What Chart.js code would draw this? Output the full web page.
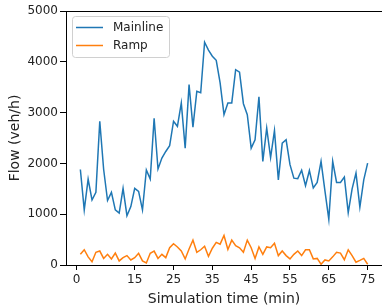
<!DOCTYPE html>
<html>
<head>
<meta charset="utf-8">
<script src="https://cdn.jsdelivr.net/npm/chart.js@4/dist/chart.umd.min.js"></script>
<style>
    html, body { margin: 0; padding: 0; background: #fff; }
    #wrap { width: 382px; height: 308px; }
</style>
</head>
<body>
<div id="wrap"><canvas id="myChart"></canvas></div>
<script>
const minutes = [];
for (let t = 1; t <= 75; t++) minutes.push(t);

const mainlineFlow = [
    1880, 1085, 1690, 1280, 1430, 2830, 1880, 1270, 1430, 1085,
    1020, 1510, 970, 1150, 1510, 1450, 1085, 1870, 1690, 2890,
    1890, 2105, 2235, 2350, 2830, 2730, 3190, 2300, 3550, 2715,
    3420, 3390, 4385, 4230, 4110, 4030, 3585, 2960, 3190, 3190,
    3845, 3795, 3175, 2960, 2300, 2465, 3310, 2040, 2695, 2115,
    2645, 1675, 2400, 2465, 1975, 1710, 1700, 1865, 1560, 1860,
    1515, 1625, 2040, 1460, 900, 2040, 1625, 1625, 1730, 1030,
    1500, 1810, 1140, 1675, 2005
];

const rampFlow = [
    210, 300, 160, 65, 250, 275, 130, 210, 120, 235,
    80, 145, 185, 100, 145, 230, 80, 40, 230, 275,
    130, 210, 145, 340, 420, 355, 275, 120, 315, 490,
    250, 300, 370, 170, 330, 445, 410, 580, 305, 490,
    380, 340, 250, 490, 340, 130, 355, 210, 355, 340,
    430, 185, 275, 185, 120, 210, 275, 185, 300, 300,
    120, 130, 15, 100, 80, 160, 250, 235, 105, 300,
    185, 55, 90, 130, 15
];

const xTicks = [0, 15, 25, 35, 45, 55, 65, 75];
const yTicks = [0, 1000, 2000, 3000, 4000, 5000];

const font = 'DejaVu Sans';
const toPoints = (vals) => vals.map((v, i) => ({ x: minutes[i], y: v }));

// frame + legend like matplotlib
const framePlugin = {
    id: 'frame',
    afterDatasetsDraw(chart) {
        const { ctx, chartArea: a } = chart;
        ctx.save();
        ctx.strokeStyle = '#000';
        ctx.lineWidth = 1;
        ctx.strokeRect(a.left + 0.5, a.top + 0.5, a.right - a.left, a.bottom - a.top);

        // legend box
        const bx = 72.5, by = 16.5, bw = 97, bh = 41;
        ctx.fillStyle = 'rgba(255,255,255,0.8)';
        ctx.strokeStyle = '#d0d0d0';
        ctx.beginPath();
        ctx.roundRect(bx, by, bw, bh, 3);
        ctx.fill();
        ctx.stroke();
        chart.data.datasets.forEach((ds, i) => {
            const y = 27.5 + i * 18;
            ctx.strokeStyle = ds.borderColor;
            ctx.lineWidth = 1.5;
            ctx.beginPath();
            ctx.moveTo(76, y);
            ctx.lineTo(103, y);
            ctx.stroke();
            ctx.fillStyle = '#222';
            ctx.font = '12px "' + font + '"';
            ctx.textBaseline = 'middle';
            ctx.fillText(ds.label, 113, y + 0.5);
        });
        ctx.restore();
    }
};

const ctx = document.getElementById('myChart').getContext('2d');
const myChart = new Chart(ctx, {
    type: 'line',
    data: {
        datasets: [{
                label: 'Mainline',
                data: toPoints(mainlineFlow),
                borderColor: '#1f77b4',
                borderWidth: 1.5,
                pointRadius: 0,
                tension: 0
            },
            {
                label: 'Ramp',
                data: toPoints(rampFlow),
                borderColor: '#ff7f0e',
                borderWidth: 1.5,
                pointRadius: 0,
                tension: 0
            }
        ]
    },
    options: {
        responsive: true,
        maintainAspectRatio: false,
        animation: false,
        layout: { padding: { top: 11, right: 0, left: 0, bottom: 0 } },
        plugins: {
            legend: { display: false },
            tooltip: { enabled: false }
        },
        scales: {
            x: {
                type: 'linear',
                min: -2.7,
                max: 78.7,
                afterBuildTicks: (scale) => {
                    scale.ticks = xTicks.map(v => ({ value: v }));
                },
                afterFit: (scale) => { scale.height = 43; },
                grid: { drawOnChartArea: false, tickLength: 5, color: '#000' },
                border: { display: false },
                ticks: {
                    color: '#222',
                    font: { family: font, size: 12 },
                    padding: 3,
                    maxRotation: 0,
                    autoSkip: false,
                    callback: (v) => String(v)
                },
                title: {
                    display: true,
                    text: 'Simulation time (min)',
                    color: '#222',
                    font: { family: font, size: 14 },
                    padding: { top: 2, bottom: 0 }
                }
            },
            y: {
                min: 0,
                max: 5000,
                afterBuildTicks: (scale) => {
                    scale.ticks = yTicks.map(v => ({ value: v }));
                },
                afterFit: (scale) => { scale.width = 66; },
                grid: { drawOnChartArea: false, tickLength: 6, color: '#000' },
                border: { display: false },
                ticks: {
                    color: '#222',
                    font: { family: font, size: 12 },
                    padding: 2,
                    callback: (v) => String(v)
                },
                title: {
                    display: true,
                    text: 'Flow (veh/h)',
                    color: '#222',
                    font: { family: font, size: 14 },
                    padding: { top: 7, bottom: 0 }
                }
            }
        }
    },
    plugins: [framePlugin]
});
</script>
</body>
</html>
